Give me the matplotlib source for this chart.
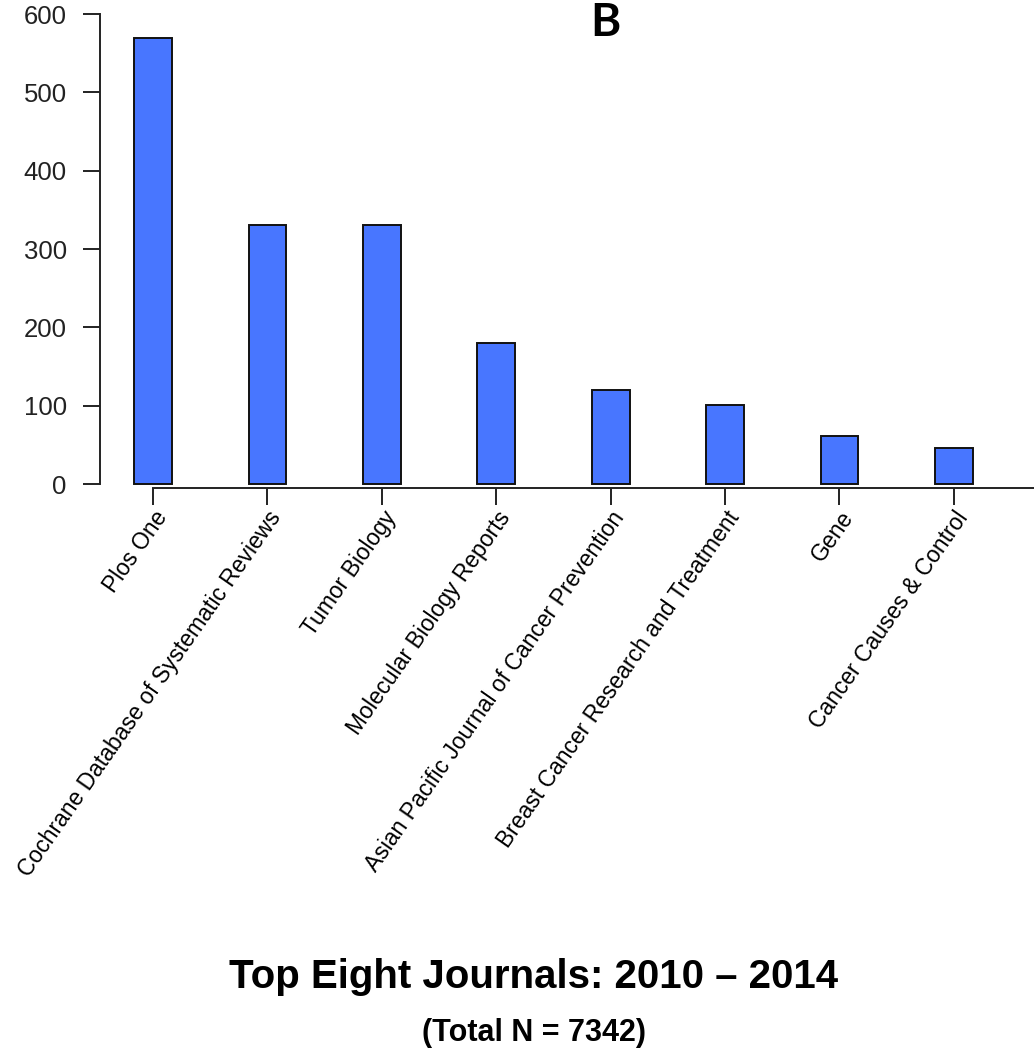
import numpy as np
import matplotlib.pyplot as plt

journals = ['Plos One', 'Cochrane Database of Systematic Reviews', 'Tumor Biology',
            'Molecular Biology Reports', 'Asian Pacific Journal of Cancer Prevention',
            'Breast Cancer Research and Treatment', 'Gene', 'Cancer Causes & Control']
counts = [570, 331, 331, 180, 120, 101, 61, 46]
yticks = [0, 100, 200, 300, 400, 500, 600]

W, H = 1034, 1050
fig = plt.figure(figsize=(W / 100, H / 100), dpi=100)
# axes box in pixels: left 100, right 1034, top 5, bottom 488
ax = fig.add_axes([100 / W, 1 - 488 / H, (1034 - 100) / W, (488 - 5) / H])

x = np.arange(len(journals))
ax.bar(x, counts, width=0.33, color='#4876FF', edgecolor='#111111', linewidth=1.4)

ax.set_xlim(-0.463, 7.70)
ax.set_ylim(-5.1, 611.5)

for s in ['top', 'right']:
    ax.spines[s].set_visible(False)
ax.spines['left'].set_bounds(0, 600)
ax.spines['bottom'].set_bounds(0, 7.70)
for s in ['left', 'bottom']:
    ax.spines[s].set_linewidth(1.4)
    ax.spines[s].set_color('#222222')

ax.set_yticks(yticks)
ax.set_yticklabels([str(v) for v in yticks], fontsize=18.5, family='Liberation Sans',
                   color='#222222')
ax.tick_params(axis='y', length=12, width=1.4, pad=12, color='#222222')

ax.set_xticks(x)
ax.set_xticklabels(journals, rotation=55, ha='right', va='top', rotation_mode='anchor',
                   fontsize=16.5, family='Liberation Sans')
ax.tick_params(axis='x', length=12.5, width=1.4, pad=1, color='#222222')

fig.text(605 / W, 1 - 2 / H, 'B', ha='center', va='top', fontsize=33,
         fontweight='bold', family='Lato')
fig.text(534 / W, 1 - 977 / H, 'Top Eight Journals: 2010 \u2013 2014', ha='center',
         va='center', fontsize=29, fontweight='bold', family='Liberation Sans')
fig.text(534 / W, 1 - 1033 / H, '(Total N = 7342)', ha='center', va='center',
         fontsize=22, fontweight='bold', family='Liberation Sans')

fig.savefig('out.png', dpi=100)
